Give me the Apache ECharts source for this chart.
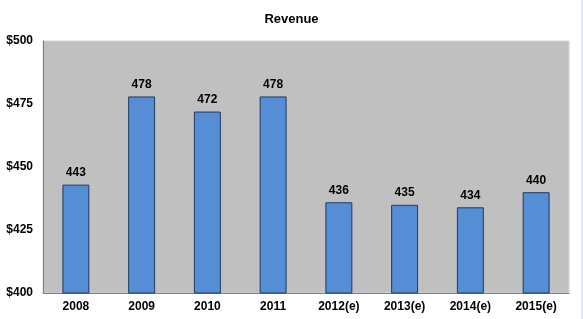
<!DOCTYPE html>
<html>
<head>
<meta charset="utf-8">
<script src="https://cdn.jsdelivr.net/npm/echarts@6/dist/echarts.min.js"></script>
<style>
  html, body { margin: 0; padding: 0; background: #fff; }
  #chart { width: 583px; height: 319px; }
  #edge { position: absolute; left: 581px; top: 0; width: 2px; height: 319px; background: #dce8f7; }
</style>
</head>
<body>
<div id="chart"></div>
<div id="edge"></div>
<script>
// 年份
const years = ['2008', '2009', '2010', '2011', '2012(e)', '2013(e)', '2014(e)', '2015(e)']
// 收入
const revenue = [443, 478, 472, 478, 436, 435, 434, 440]
const yTicks = [400, 425, 450, 475, 500]

const chart = echarts.init(document.getElementById('chart'))
const font = 'Arial, "Liberation Sans", sans-serif'

chart.setOption({
  animation: false,
  title: {
    text: 'Revenue',
    left: 'center',
    top: 8,
    textStyle: { fontSize: 13, fontWeight: 'bold', color: '#000', fontFamily: font }
  },
  grid: {
    left: 43,
    right: 14,
    top: 41,
    bottom: 26,
    show: true,
    backgroundColor: '#c0c0c0',
    borderColor: '#c9d6ee',
    borderWidth: 1
  },
  xAxis: {
    type: 'category',
    data: years,
    axisLine: { lineStyle: { color: '#7f7f7f', width: 1 } },
    axisTick: { show: false },
    axisLabel: { color: '#000', fontSize: 12, fontWeight: 'bold', fontFamily: font, margin: 8 }
  },
  yAxis: {
    type: 'value',
    min: yTicks[0],
    max: yTicks[yTicks.length - 1],
    interval: 25,
    splitLine: { show: false },
    axisLine: { show: true, lineStyle: { color: '#7f7f7f', width: 1 } },
    axisTick: { show: false },
    axisLabel: {
      color: '#000', fontSize: 12, fontWeight: 'bold', fontFamily: font, margin: 10,
      formatter: v => '$' + v
    }
  },
  series: [{
    type: 'bar',
    data: revenue,
    barWidth: '41%',
    itemStyle: { color: '#558ed5', borderColor: '#1f3864', borderWidth: 1 },
    label: {
      show: true,
      position: 'top',
      distance: 6,
      color: '#000',
      fontSize: 12,
      fontWeight: 'bold',
      fontFamily: font
    }
  }]
})
</script>
</body>
</html>
